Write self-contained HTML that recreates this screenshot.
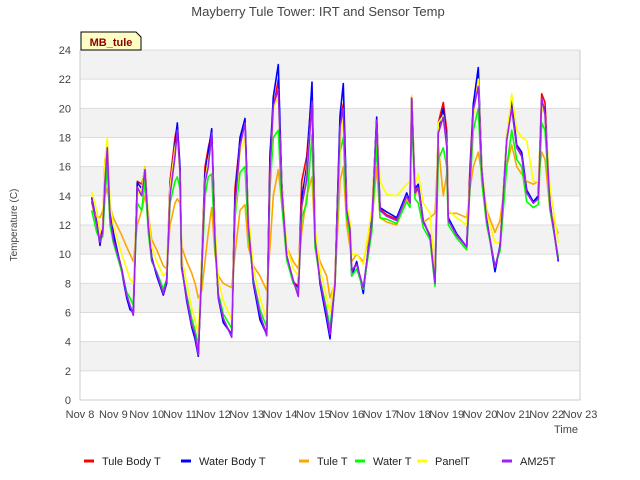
<!DOCTYPE html>
<html><head><meta charset="utf-8"><style>
body{margin:0;background:#fff;}
svg{display:block;font-family:"Liberation Sans",sans-serif;}
</style></head><body>
<svg id="chart" width="640" height="480">
<rect width="640" height="480" fill="#fff"/>
<text x="318" y="16" text-anchor="middle" font-size="13" fill="#444">Mayberry Tule Tower: IRT and Sensor Temp</text>
<g id="grid"></g>
<g id="series"></g>
<g id="axes"></g>
<text transform="translate(17,225) rotate(-90)" text-anchor="middle" font-size="10" fill="#444">Temperature (C)</text>
<text x="566" y="433" text-anchor="middle" font-size="11" fill="#444">Time</text>
<g>
<path d="M81,50 L81,32 L136,32 L141,37 L141,50 Z" fill="#ffffc4" stroke="#000" stroke-width="1"/>
<text x="111" y="46" text-anchor="middle" font-size="11" font-weight="bold" fill="#8b0000">MB_tule</text>
</g>
<g id="legend"></g>
</svg>
<script>
const xTicks=["Nov 8","Nov 9","Nov 10","Nov 11","Nov 12","Nov 13","Nov 14","Nov 15","Nov 16","Nov 17","Nov 18","Nov 19","Nov 20","Nov 21","Nov 22","Nov 23"];
const yTicks=[0,2,4,6,8,10,12,14,16,18,20,22,24];
const seriesNames=["Tule Body T","Water Body T","Tule T","Water T","PanelT","AM25T"];
const seriesColors=["#ff0000","#0000ff","#ffa500","#00ff00","#ffff00","#a020f0"];
const times=[0.35,0.5,0.6,0.68,0.75,0.82,0.9,1.0,1.25,1.4,
1.5,1.6,1.72,1.85,1.95,2.05,2.15,2.3,2.5,2.6,
2.7,2.85,2.92,3.0,3.05,3.2,3.35,3.45,3.55,3.65,
3.75,3.85,3.95,4.05,4.15,4.3,4.55,4.65,4.8,4.95,
5.05,5.2,5.4,5.6,5.7,5.8,5.95,6.05,6.2,6.4,
6.55,6.65,6.8,6.96,7.05,7.2,7.4,7.5,7.65,7.8,
7.9,8.0,8.1,8.15,8.3,8.5,8.75,8.9,9.0,9.2,
9.5,9.8,9.9,9.95,10.05,10.15,10.3,10.5,10.65,10.75,
10.9,11.0,11.05,11.3,11.6,11.7,11.8,11.95,12.05,12.2,
12.45,12.6,12.8,12.95,13.1,13.25,13.4,13.6,13.75,13.85,
13.95,14.1,14.35];
const tuleBodyT=[13.6,12.1,10.8,12,16.5,17,12.8,11.3,9,7.2,
6.4,6,15,14.8,15.7,12.1,9.7,8.6,7.2,8.2,
15,18,18.8,15.8,9.1,7,5.2,4.3,3.2,9.5,
16,17.3,18.3,11.3,7.1,5.4,4.5,14.5,17.8,19,
12.2,8.1,5.7,4.6,17,20,22,14.8,9.9,8.1,
7.8,15,16.7,21.2,11.3,8.1,5.7,4.4,8.3,19,
20.3,13.3,11.7,8.8,9.4,7.5,12.2,19.2,13.1,12.7,
12.4,14.1,13.5,20.8,14.3,14.6,12.2,11.3,8.2,19,
20.4,18.5,12.4,11.3,10.5,16,20.2,22.3,15.9,12.3,
9,10.5,17.8,20.3,17.3,16.8,14.3,13.5,14,21,
20.4,13.4,9.6];
const waterBodyT=[13.9,12.2,10.6,11.8,15.5,17.5,13,11.5,8.8,7,
6.2,6,14.9,14.5,16,12.3,9.8,8.5,7.2,8,
14.5,17.5,19,16,9.2,6.8,5,4.2,3,9,
15.5,17,18.6,11.5,7,5.3,4.5,13.8,18,19.3,
12.3,8,5.5,4.5,16.5,20.8,23,15,9.8,8,
7.7,13.8,16,21.8,11.5,8,5.5,4.2,8,19.5,
21.7,13.5,11.5,8.5,9.5,7.3,12.5,19.4,13.2,12.9,
12.5,14.2,13.6,20.8,14.5,14.8,12.3,11.2,8,18.6,
20,17.8,12.5,11.4,10.5,15.5,20.3,22.8,16,12.4,
8.8,10.6,18,20.5,17.5,17,14.4,13.6,14,20.5,
19.8,13.5,9.5];
const tuleT=[13,12.6,12.5,13,14,14.5,13.3,12.5,11.3,10.5,
10,9.5,12,13,14,12.8,11,10.3,9.2,9,
12,13.5,13.8,13.5,10.5,9.5,8.7,8,7,7.5,
9.5,11.5,13.2,10,8.5,8,7.7,10,13,13.4,
10.5,9.2,8.5,7.5,10.5,14,15.8,13.5,10.5,9.5,
9,11.5,14,15.3,11,9.5,8.5,7,8,15,
16,12,10.5,9.5,10,9.5,12,16,12.5,12.2,
12,13.8,13.5,20,14,14.5,12.2,12.5,12.8,17.5,
14,15.5,12.8,12.8,12.5,14.5,16,17,15.5,13,
11.5,12.3,16,17.5,16,15.5,15,14.8,15,17,
16.5,13,11.4];
const waterT=[13,11.5,11,11.2,14,16,12,10.8,8.8,7.4,
7,6.5,13.5,13,15,11.5,9.5,8.8,7.6,8.3,
13.5,15,15.3,14.5,9,7.2,5.6,4.8,3.7,8.5,
14,15.3,15.5,10.5,7.3,5.9,4.9,12.5,15.6,16,
11.5,8.3,6.2,5,14.5,18,18.5,13.5,9.6,8,
7.5,12.5,13.5,18.2,10.5,8.3,6.2,5,7.8,17,
18,12.5,11.3,8.5,9,7.6,11.5,17.5,12.5,12.4,
12.1,13.6,13.2,19.5,13.8,13.5,11.8,11,7.8,16.5,
17.3,16,12,11.1,10.3,14.5,18.5,20,15,12,
9.2,10.2,16,18.5,16.5,16,13.6,13.2,13.4,19,
18.5,13,9.8];
const panelT=[14.3,13,11.5,12,16.5,18,13.5,12,10,9,
8.3,8,14,14.5,16,12.6,10.5,9.5,8.5,8.8,
14.5,17.3,18,15.5,9.8,8,6.3,5.5,4.5,9.5,
15,16.5,17.6,11.8,8.2,6.8,5.5,12.8,17,18,
12.8,9,7,5.5,15,20,20.8,14.8,10.5,9,
8.5,13,15.5,20.3,11.8,9,7,6,8.5,17.5,
19.3,13.5,12.2,10,10,9.3,13,18.8,15,14.1,
14,14.8,15,20.9,14.8,15.5,13.5,12.8,8.5,19,
19.5,17.5,13,12.5,12,15,19.5,22,16,12.8,
10.8,10.8,18,21,18.5,18,17.8,15,15,20.2,
19.5,14.5,10.8];
const am25T=[13.8,12.0,10.8,11.5,15,17.3,12.5,11,9,7.2,
6.5,5.8,14.6,14,15.8,12,9.6,8.7,7.3,8.2,
14,16.7,18.5,15.6,9,7,5.2,4.5,3.1,9,
14.9,16,18.3,11,7.1,5.6,4.3,13.3,17.4,19,
12,8.2,5.9,4.4,15.6,20.2,21.3,14.5,9.9,8.2,
7.1,13.3,15.1,20.5,11,8.2,5.9,4.5,8,18.7,
20,13,11.7,8.9,9.3,7.7,12,19.2,13,12.6,
12.3,14,13.5,20.7,14.2,14.5,12.2,11.3,8,18.3,
19.4,17.4,12.3,11.3,10.5,15,19.9,21.5,15.8,12.3,
9.1,10.5,17.8,20,17.3,16.7,14.2,13.5,13.8,20.7,
19.6,13.3,9.6];
const allSeries=[tuleBodyT,waterBodyT,tuleT,waterT,panelT,am25T];

const L=80,R=580,T=50,B=400,yMax=24,days=15;
const xs=d=>L+(R-L)*d/days;
const ys=v=>B-(B-T)*v/yMax;
const NS="http://www.w3.org/2000/svg";
function mk(tag,attrs,parent){const e=document.createElementNS(NS,tag);for(const k in attrs)e.setAttribute(k,attrs[k]);parent.appendChild(e);return e;}
const grid=document.getElementById('grid'),axes=document.getElementById('axes'),ser=document.getElementById('series'),leg=document.getElementById('legend');
for(let i=0;i<yTicks.length-1;i++){
  if(i%2===1){const r=mk('rect',{x:L,y:ys(yTicks[i+1]),width:R-L,height:ys(yTicks[i])-ys(yTicks[i+1]),fill:'#f2f2f2'},grid);
  
  }
}
yTicks.forEach(v=>{
  const l=mk('line',{x1:L,x2:R,y1:ys(v),y2:ys(v),stroke:'#dcdcdc','stroke-width':1},grid);
  
  
  const t=mk('text',{x:L-9,y:ys(v)+4,'text-anchor':'end','font-size':11,fill:'#444'},axes);
  t.textContent=v;
  
  
});
xTicks.forEach((s,i)=>{
  const t=mk('text',{x:xs(i),y:B+18,'text-anchor':'middle','font-size':11,fill:'#444'},axes);
  t.textContent=s;
  
  
});
const ax=mk('path',{d:`M${L},${T}V${B}H${R}V${T}`,fill:'none',stroke:'#ccc'},axes);


allSeries.forEach((vals,si)=>{
  const d=vals.map((v,i)=>(i?'L':'M')+xs(times[i]).toFixed(1)+','+ys(v).toFixed(1)).join('');
  const p=mk('path',{d:d,fill:'none',stroke:seriesColors[si],'stroke-width':1.6,'stroke-linejoin':'round'},ser);
  
  
});
const legX=[84,181,299,355,417,502];
seriesNames.forEach((n,i)=>{
  const g=mk('g',{},leg);
  
  
  mk('line',{x1:legX[i],x2:legX[i]+10,y1:461,y2:461,stroke:seriesColors[i],'stroke-width':3},g);
  const t=mk('text',{x:legX[i]+18,y:465,'font-size':11,fill:'#222'},g);
  t.textContent=n;
});
</script>
</body></html>
